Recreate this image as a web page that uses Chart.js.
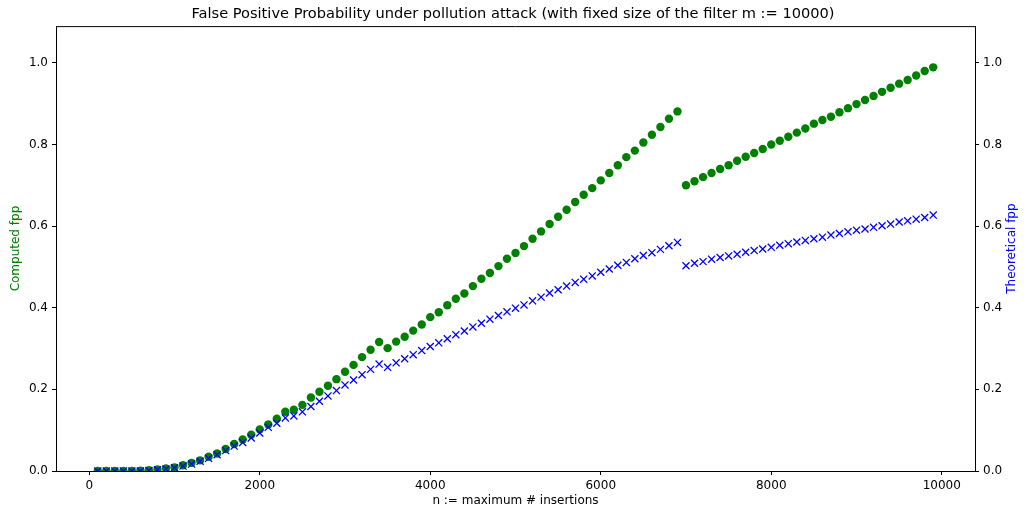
<!DOCTYPE html>
<html>
<head>
<meta charset="utf-8">
<script src="https://cdn.jsdelivr.net/npm/chart.js@4/dist/chart.umd.min.js"></script>
<style>
  html, body { margin: 0; padding: 0; background: #ffffff; }
  #wrap { width: 1026px; height: 515px; }
</style>
</head>
<body>
<div id="wrap"><canvas id="c" width="1026" height="515"></canvas></div>
<script>
// ---- data ----
const insertions = [
  100,200,300,400,500,600,700,800,900,1000,
  1100,1200,1300,1400,1500,1600,1700,1800,1900,2000,
  2100,2200,2300,2400,2500,2600,2700,2800,2900,3000,
  3100,3200,3300,3400,3500,3600,3700,3800,3900,4000,
  4100,4200,4300,4400,4500,4600,4700,4800,4900,5000,
  5100,5200,5300,5400,5500,5600,5700,5800,5900,6000,
  6100,6200,6300,6400,6500,6600,6700,6800,6900,7000,
  7100,7200,7300,7400,7500,7600,7700,7800,7900,8000,
  8100,8200,8300,8400,8500,8600,8700,8800,8900,9000,
  9100,9200,9300,9400,9500,9600,9700,9800,9900
];
const computedFpp = [
  0.000,0.000,0.000,0.000,0.000,0.001,0.002,0.004,0.006,0.009,
  0.014,0.020,0.026,0.035,0.043,0.054,0.066,0.077,0.089,0.102,
  0.114,0.128,0.145,0.150,0.162,0.180,0.194,0.209,0.225,0.243,
  0.260,0.279,0.297,0.316,0.301,0.317,0.329,0.344,0.359,0.377,
  0.389,0.406,0.422,0.435,0.453,0.471,0.485,0.502,0.520,0.534,
  0.551,0.569,0.587,0.605,0.623,0.640,0.659,0.677,0.693,0.712,
  0.730,0.749,0.769,0.785,0.805,0.824,0.843,0.863,0.881,0.700,
  0.710,0.720,0.730,0.740,0.749,0.760,0.770,0.779,0.789,0.800,
  0.809,0.819,0.829,0.839,0.851,0.860,0.868,0.879,0.889,0.899,
  0.909,0.919,0.929,0.939,0.949,0.958,0.969,0.980,0.989
];
const theoreticalFpp = [
  0.000,0.000,0.000,0.000,0.000,0.000,0.001,0.003,0.005,0.008,
  0.012,0.017,0.024,0.031,0.040,0.050,0.061,0.070,0.081,0.093,
  0.107,0.117,0.130,0.135,0.145,0.158,0.171,0.184,0.197,0.211,
  0.223,0.236,0.249,0.262,0.254,0.265,0.275,0.285,0.295,0.305,
  0.314,0.324,0.334,0.343,0.353,0.362,0.372,0.381,0.390,0.399,
  0.407,0.417,0.426,0.436,0.444,0.453,0.462,0.470,0.478,0.487,
  0.495,0.504,0.511,0.520,0.528,0.535,0.543,0.552,0.560,0.503,
  0.509,0.513,0.519,0.523,0.527,0.531,0.536,0.540,0.544,0.548,
  0.553,0.557,0.561,0.565,0.569,0.573,0.578,0.582,0.586,0.590,
  0.593,0.597,0.601,0.605,0.610,0.613,0.617,0.621,0.627
];
const xTickValues = [0, 2000, 4000, 6000, 8000, 10000];
const yTickValues = [0.0, 0.2, 0.4, 0.6, 0.8, 1.0];

const titleText = 'False Positive Probability under pollution attack (with fixed size of the filter m := 10000)';
const xLabel = 'n := maximum # insertions';
const yLeftLabel = 'Computed fpp';
const yRightLabel = 'Theoretical fpp';

// ---- chart ----
Chart.defaults.font.family = '"DejaVu Sans", sans-serif';
Chart.defaults.color = '#000000';

const PLOT = { left: 56, right: 975, top: 26, bottom: 471 };
const W = 1026, H = 515;

const toPts = (vals) => insertions.map((n, i) => ({ x: n, y: vals[i] }));

const frame = {
  id: 'frame',
  afterDraw(chart) {
    const { ctx, chartArea } = chart;
    ctx.save();
    ctx.strokeStyle = '#000';
    ctx.lineWidth = 1;
    ctx.beginPath();
    ctx.moveTo(chartArea.left, chartArea.top + 0.5);
    ctx.lineTo(chartArea.right, chartArea.top + 0.5);
    ctx.stroke();
    // right axis label, reading bottom-to-top
    ctx.fillStyle = 'blue';
    ctx.font = '12px "DejaVu Sans", sans-serif';
    ctx.textAlign = 'center';
    ctx.textBaseline = 'middle';
    ctx.translate(1012, (chartArea.top + chartArea.bottom) / 2);
    ctx.rotate(-Math.PI / 2);
    ctx.fillText(yRightLabel, 0, 0);
    ctx.restore();
  }
};

const setTicks = (vals) => (scale) => { scale.ticks = vals.map(v => ({ value: v })); };

new Chart(document.getElementById('c'), {
  type: 'scatter',
  data: {
    datasets: [
      {
        label: yRightLabel,
        data: toPts(theoreticalFpp),
        yAxisID: 'y1',
        pointStyle: 'crossRot',
        pointRadius: 5,
        pointHoverRadius: 5,
        borderColor: '#0000ff',
        backgroundColor: '#0000ff',
        borderWidth: 1.3,
        order: 0
      },
      {
        label: yLeftLabel,
        data: toPts(computedFpp),
        yAxisID: 'y',
        pointStyle: 'circle',
        pointRadius: 4.2,
        pointHoverRadius: 4.2,
        borderWidth: 0,
        backgroundColor: '#008000',
        borderColor: '#008000',
        order: 1
      }
    ]
  },
  options: {
    responsive: false,
    animation: false,
    events: [],
    layout: { padding: 0 },
    plugins: {
      legend: { display: false },
      tooltip: { enabled: false },
      title: {
        display: true,
        text: titleText,
        color: '#000',
        font: { size: 14.6, weight: 'normal' },
        padding: { top: 5.4, bottom: 3.2 }
      }
    },
    scales: {
      x: {
        type: 'linear',
        min: -390,
        max: 10390,
        afterBuildTicks: setTicks(xTickValues),
        afterFit: (s) => { s.height = H - PLOT.bottom; },
        grid: { drawOnChartArea: false, drawTicks: true, tickLength: 4, color: '#000', tickWidth: 1 },
        border: { display: true, color: '#000', width: 1 },
        ticks: { color: '#000', font: { size: 12 }, padding: 4, maxRotation: 0, autoSkip: false,
                 callback: (v) => String(v) },
        title: { display: true, text: xLabel, color: '#000', font: { size: 12 }, padding: { top: 0, bottom: 7 } }
      },
      y: {
        type: 'linear',
        position: 'left',
        min: 0,
        max: 1.09,
        afterBuildTicks: setTicks(yTickValues),
        afterFit: (s) => { s.width = PLOT.left; },
        grid: { drawOnChartArea: false, drawTicks: true, tickLength: 4, color: '#000' },
        border: { display: true, color: '#000', width: 1 },
        ticks: { color: '#000', font: { size: 12 }, padding: 4, callback: (v) => Number(v).toFixed(1) },
        title: { display: true, text: yLeftLabel, color: 'green', font: { size: 12 }, padding: { top: 9, bottom: 0 } }
      },
      y1: {
        type: 'linear',
        position: 'right',
        min: 0,
        max: 1.09,
        afterBuildTicks: setTicks(yTickValues),
        afterFit: (s) => { s.width = W - PLOT.right; },
        grid: { drawOnChartArea: false, drawTicks: true, tickLength: 4, color: '#000' },
        border: { display: true, color: '#000', width: 1 },
        ticks: { color: '#000', font: { size: 12 }, padding: 4, callback: (v) => Number(v).toFixed(1) },
        title: { display: false }
      }
    }
  },
  plugins: [frame]
});
</script>
</body>
</html>
